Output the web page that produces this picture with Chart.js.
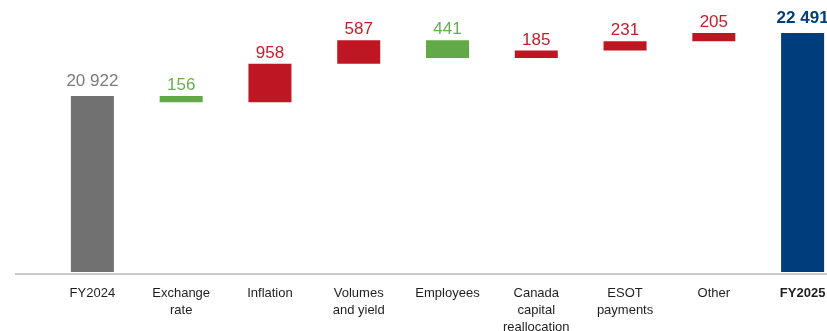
<!DOCTYPE html>
<html>
<head>
<meta charset="utf-8">
<script src="https://cdn.jsdelivr.net/npm/chart.js@4/dist/chart.umd.min.js"></script>
<style>
  html, body { margin: 0; padding: 0; background: #fff; overflow: hidden; }
  #wrap { width: 852px; height: 331px; }
</style>
</head>
<body>
<div id="wrap"><canvas id="c" width="852" height="331"></canvas></div>
<script>
// Cost bridge FY2024 -> FY2025
const categories = [
  'FY2024', ['Exchange', 'rate'], 'Inflation', ['Volumes', 'and yield'], 'Employees',
  ['Canada', 'capital', 'reallocation'], ['ESOT', 'payments'], 'Other', 'FY2025'
];
const startTotal = 20922;
const endTotal = 22491;
const changes = [-156, 958, 587, -441, 185, 231, 205];
const valueLabels = ['20 922', '156', '958', '587', '441', '185', '231', '205', '22 491'];

const GREY = '#717171', GREEN = '#62a948', RED = '#be1622', NAVY = '#003d7c';
const TEXT_GREY = '#7a7a7a', TEXT_GREEN = '#68ad4f', TEXT_RED = '#c51d2b';

// floating bars: [low, high]
const bars = [[0, startTotal]];
const barColors = [GREY];
const textColors = [TEXT_GREY];
let running = startTotal;
for (const d of changes) {
  const next = running + d;
  bars.push([Math.min(running, next), Math.max(running, next)]);
  barColors.push(d < 0 ? GREEN : RED);
  textColors.push(d < 0 ? TEXT_GREEN : TEXT_RED);
  running = next;
}
bars.push([0, endTotal]);
barColors.push(NAVY);
textColors.push(NAVY);

const FONT = '"Liberation Sans", Arial, Helvetica, sans-serif';

const baseLine = {
  id: 'baseLine',
  afterDatasetsDraw(chart) {
    const { ctx, chartArea } = chart;
    ctx.save();
    ctx.fillStyle = '#c9c9c9';
    ctx.fillRect(15, chartArea.bottom + 1, chart.width - 15, 2);
    ctx.restore();
  }
};

const valueTags = {
  id: 'valueTags',
  afterDatasetsDraw(chart) {
    const { ctx } = chart;
    const meta = chart.getDatasetMeta(0);
    ctx.save();
    ctx.textAlign = 'center';
    ctx.textBaseline = 'alphabetic';
    meta.data.forEach((bar, i) => {
      const total = i === 0 || i === meta.data.length - 1;
      const bold = i === meta.data.length - 1;
      ctx.font = (bold ? 'bold ' : '') + '17px ' + FONT;
      ctx.fillStyle = textColors[i];
      const top = Math.min(bar.y, bar.base);
      ctx.fillText(valueLabels[i], bar.x, top - (total ? 10 : 6));
    });
    ctx.restore();
  }
};

new Chart(document.getElementById('c'), {
  type: 'bar',
  data: {
    labels: categories,
    datasets: [{
      data: bars,
      backgroundColor: barColors,
      borderWidth: 0,
      categoryPercentage: 1,
      barPercentage: 0.4845
    }]
  },
  options: {
    responsive: false,
    animation: false,
    layout: { padding: { left: 48, right: 5, top: 0, bottom: 0 } },
    plugins: { legend: { display: false }, tooltip: { enabled: false } },
    scales: {
      y: {
        display: false,
        min: 16540,
        max: 23313
      },
      x: {
        grid: { display: false, drawTicks: false },
        border: { display: false },
        afterFit(scale) { scale.height = 59; },
        ticks: {
          padding: 13,
          autoSkip: false,
          maxRotation: 0,
          color: '#1e1e1e',
          font: (ctx) => ({
            family: FONT,
            size: 13,
            lineHeight: 1.3,
            weight: ctx.index === categories.length - 1 ? 'bold' : 'normal'
          })
        }
      }
    }
  },
  plugins: [baseLine, valueTags]
});
</script>
</body>
</html>
